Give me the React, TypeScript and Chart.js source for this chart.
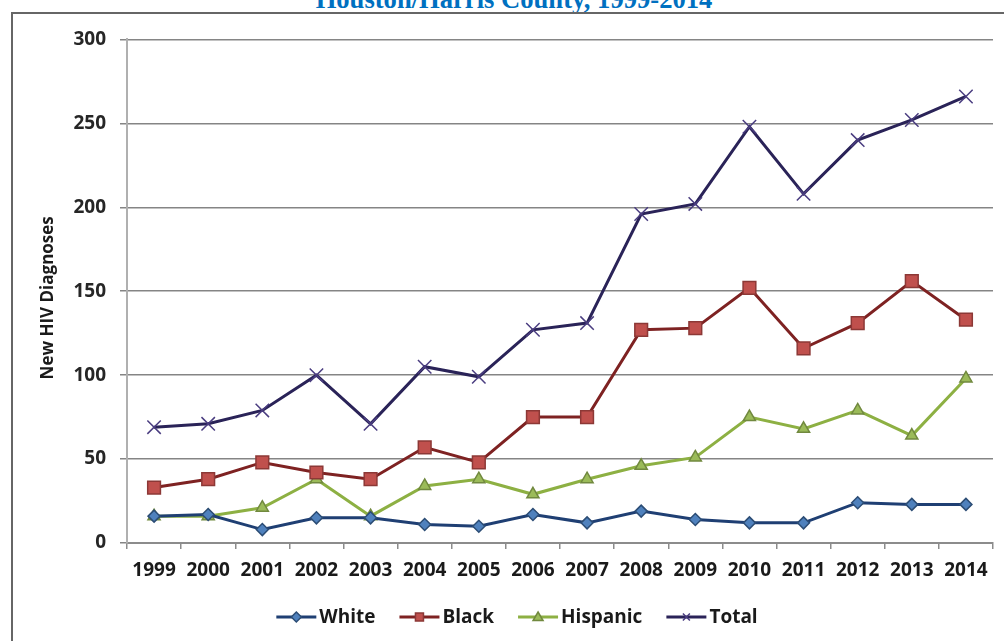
import React, { useEffect, useRef } from "react";
import { Chart, registerables } from "chart.js";

Chart.register(...registerables);

const years = ["1999","2000","2001","2002","2003","2004","2005","2006","2007","2008","2009","2010","2011","2012","2013","2014"];
const white = [16, 17, 8, 15, 15, 11, 10, 17, 12, 19, 14, 12, 12, 24, 23, 23];
const black = [33, 38, 48, 42, 38, 57, 48, 75, 75, 127, 128, 152, 116, 131, 156, 133];
const hispanic = [16, 16, 21, 38, 16, 34, 38, 29, 38, 46, 51, 75, 68, 79, 64, 98];
const total = [69, 71, 79, 100, 71, 105, 99, 127, 131, 196, 202, 248, 208, 240, 252, 266];
const seriesNames = ["White", "Black", "Hispanic", "Total"];
const yTicks = [0, 50, 100, 150, 200, 250, 300];

const FONT = "'Open Sans', 'DejaVu Sans', sans-serif";

function drawMarker(ctx: CanvasRenderingContext2D, style: string, x: number, y: number, r: number, fill: string, stroke: string) {
  ctx.save();
  ctx.fillStyle = fill;
  ctx.strokeStyle = stroke;
  ctx.lineWidth = 1.5;
  ctx.beginPath();
  if (style === "rectRot") {
    ctx.moveTo(x, y - r); ctx.lineTo(x + r, y); ctx.lineTo(x, y + r); ctx.lineTo(x - r, y); ctx.closePath();
    ctx.fill(); ctx.stroke();
  } else if (style === "rect") {
    const s = r * 0.8;
    ctx.rect(x - s, y - s, 2 * s, 2 * s); ctx.fill(); ctx.stroke();
  } else if (style === "triangle") {
    ctx.moveTo(x, y - r); ctx.lineTo(x + r, y + r * 0.7); ctx.lineTo(x - r, y + r * 0.7); ctx.closePath();
    ctx.fill(); ctx.stroke();
  } else {
    const d = r * 0.7;
    ctx.lineWidth = 1.5;
    ctx.moveTo(x - d, y - d); ctx.lineTo(x + d, y + d);
    ctx.moveTo(x + d, y - d); ctx.lineTo(x - d, y + d);
    ctx.stroke();
  }
  ctx.restore();
}

const legendPlugin = {
  id: "excelLegend",
  afterDraw(chart: any) {
    const ctx = chart.ctx as CanvasRenderingContext2D;
    ctx.save();
    ctx.font = `bold 19px ${FONT}`;
    ctx.textBaseline = "middle";
    const lineLen = 40, gap = 3, spacing = 24;
    const ds = chart.data.datasets;
    const widths = ds.map((d: any) => lineLen + gap + ctx.measureText(d.label).width);
    const totalW = widths.reduce((a: number, b: number) => a + b, 0) + spacing * (ds.length - 1);
    let x = 504 - totalW / 2;
    const y = 603;
    ds.forEach((d: any, i: number) => {
      ctx.strokeStyle = d.borderColor;
      ctx.lineWidth = 3;
      ctx.beginPath();
      ctx.moveTo(x, y); ctx.lineTo(x + lineLen, y); ctx.stroke();
      drawMarker(ctx, d.pointStyle, x + lineLen / 2, y, 5, d.pointBackgroundColor, d.pointBorderColor);
      ctx.fillStyle = "#1a1a1a";
      ctx.textAlign = "left";
      ctx.fillText(d.label, x + lineLen + gap, y + 1);
      x += widths[i] + spacing;
    });
    ctx.restore();
  },
};

export default function App() {
  const ref = useRef<HTMLCanvasElement>(null);
  useEffect(() => {
    if (!ref.current) return;
    const mk = (label: string, data: number[], line: string, fill: string, border: string, style: string, r: number) => ({
      label, data,
      borderColor: line, borderWidth: 3,
      pointStyle: style, pointRadius: r, pointHoverRadius: r,
      pointBackgroundColor: fill, pointBorderColor: border, pointBorderWidth: 1.5,
      tension: 0, fill: false,
    });
    const chart = new Chart(ref.current, {
      type: "line",
      data: {
        labels: years,
        datasets: [
          mk(seriesNames[0], white, "#1F3F73", "#4F81BD", "#2C4D75", "rectRot", 6),
          mk(seriesNames[1], black, "#7E2222", "#C0504D", "#8C3836", "rect", 9),
          mk(seriesNames[2], hispanic, "#8DB043", "#9BBB59", "#71893F", "triangle", 7),
          mk(seriesNames[3], total, "#2A2358", "#2A2358", "#4A3D80", "crossRot", 9.5),
        ],
      },
      options: {
        responsive: false,
        animation: false,
        events: [],
        layout: { padding: { top: 24, right: 11, bottom: 0, left: 0 } },
        plugins: { legend: { display: false }, tooltip: { enabled: false }, title: { display: false } },
        scales: {
          x: {
            offset: true,
            grid: { display: true, offset: true, drawOnChartArea: false, drawTicks: true, tickLength: 6, color: "#8c8c8c", lineWidth: 1.5 },
            border: { display: true, color: "#8c8c8c", width: 2 },
            ticks: { color: "#1a1a1a", font: { family: FONT, size: 19, weight: "bold" }, padding: 10, maxRotation: 0, autoSkip: false },
            afterFit: (s: any) => { s.height = 98; },
          },
          y: {
            min: 0, max: 300,
            afterBuildTicks: (s: any) => { s.ticks = yTicks.map((v) => ({ value: v })); },
            grid: { color: "#858585", lineWidth: 1.5, tickLength: 7, drawTicks: true },
            border: { display: true, color: "#b0b0b0", width: 2 },
            ticks: { color: "#262626", font: { family: FONT, size: 19, weight: "bold" }, padding: 14 },
            title: { display: true, text: "New HIV Diagnoses   ", color: "#1a1a1a", font: { family: FONT, size: 17, weight: "bold" }, padding: { top: 25, bottom: 0 } },
            afterFit: (s: any) => { s.width = 114; },
          },
        },
      },
      plugins: [legendPlugin],
    });
    return () => chart.destroy();
  }, []);

  return (
    <div style={{ position: "absolute", left: 0, top: 0, width: 1004, height: 641, overflow: "hidden", background: "#fff" }}>
      <div style={{ position: "absolute", left: 0, width: 1028, top: -14.3, textAlign: "center", fontFamily: "'Liberation Serif', 'Times New Roman', serif", fontWeight: "bold", fontSize: 26.6, lineHeight: 1, color: "#0070C0", whiteSpace: "nowrap" }}>
        Houston/Harris County, 1999-2014
      </div>
      <div style={{ position: "absolute", left: 11, top: 12, width: 1100, height: 700, borderTop: "2px solid #666", borderLeft: "2px solid #666" }} />
      <canvas ref={ref} width={991} height={627} style={{ position: "absolute", left: 13, top: 14, width: 991, height: 627 }} />
    </div>
  );
}
